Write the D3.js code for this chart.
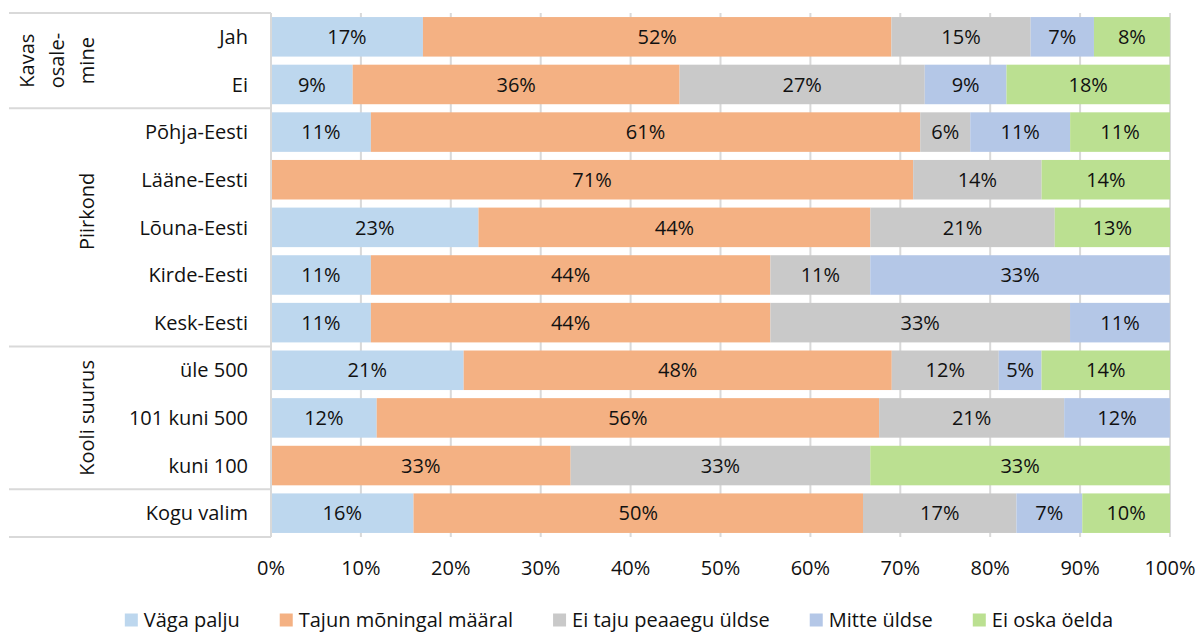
<!DOCTYPE html>
<html>
<head>
<meta charset="utf-8">
<script src="https://cdn.jsdelivr.net/npm/d3@7/dist/d3.min.js"></script>
<style>
  html, body { margin: 0; padding: 0; background: #fff; }
  svg { display: block; font-family: "Open Sans", "Noto Sans", sans-serif; }
</style>
</head>
<body>
<svg id="chart" width="1199" height="632"></svg>
<script>
// Row categories, top to bottom
const categories = ["Jah", "Ei", "Põhja-Eesti", "Lääne-Eesti", "Lõuna-Eesti", "Kirde-Eesti",
  "Kesk-Eesti", "üle 500", "101 kuni 500", "kuni 100", "Kogu valim"];

// Category groups (name lines, first row index, row count)
const groups = [
  { lines: ["Kavas", "osale-", "mine"], start: 0, count: 2 },
  { lines: ["Piirkond"], start: 2, count: 5 },
  { lines: ["Kooli suurus"], start: 7, count: 3 },
  { lines: [], start: 10, count: 1 }
];

// Answer shares, % of respondents per row
const vagaPalju = [16.90, 9.09, 11.11, 0, 23.08, 11.11, 11.11, 21.43, 11.76, 0, 15.85];
const tajun     = [52.11, 36.36, 61.11, 71.43, 43.59, 44.44, 44.44, 47.62, 55.88, 33.33, 50.00];
const eiTaju    = [15.49, 27.27, 5.56, 14.29, 20.51, 11.11, 33.33, 11.90, 20.59, 33.33, 17.07];
const mitte     = [7.04, 9.09, 11.11, 0, 0, 33.33, 11.11, 4.76, 11.76, 0, 7.32];
const eiOska    = [8.45, 18.18, 11.11, 14.29, 12.82, 0, 0, 14.29, 0, 33.33, 9.76];

const seriesNames = ["Väga palju", "Tajun mõningal määral", "Ei taju peaaegu üldse", "Mitte üldse", "Ei oska öelda"];
const seriesValues = [vagaPalju, tajun, eiTaju, mitte, eiOska];
const colors = ["#BDD7EE", "#F4B183", "#C9C9C9", "#B4C7E7", "#BBE091"];

const xTicks = [0, 10, 20, 30, 40, 50, 60, 70, 80, 90, 100];

// ---- layout ----
const svg = d3.select("#chart");
const plotLeft = 271, plotRight = 1170, plotTop = 13, plotBottom = 537;
const tableLeft = 9;
const fontSize = 20;
const lineColor = "#D9D9D9";

const x = d3.scaleLinear().domain([0, 100]).range([plotLeft, plotRight]);
const y = d3.scaleBand().domain(categories).range([plotTop, plotBottom])
  .paddingInner(0.17).paddingOuter(0.085);

// table rows for stacking
const rows = categories.map((c, i) => {
  const r = { category: c };
  seriesNames.forEach((s, k) => { r[s] = seriesValues[k][i]; });
  return r;
});
const stacked = d3.stack().keys(seriesNames)(rows);

// vertical gridlines
svg.append("g").selectAll("line").data(xTicks.slice(1)).join("line")
  .attr("x1", d => x(d)).attr("x2", d => x(d))
  .attr("y1", plotTop).attr("y2", plotBottom)
  .attr("stroke", lineColor).attr("stroke-width", 2);

// bars
const layers = svg.append("g").selectAll("g").data(stacked).join("g")
  .attr("fill", (d, i) => colors[i]);
layers.selectAll("rect").data(d => d.map(p => ({ p, key: d.key }))).join("rect")
  .attr("x", d => x(d.p[0]))
  .attr("width", d => Math.max(0, x(d.p[1]) - x(d.p[0])))
  .attr("y", d => y(d.p.data.category))
  .attr("height", y.bandwidth());

// value labels
const labelG = svg.append("g").attr("font-size", fontSize).attr("fill", "#111")
  .attr("text-anchor", "middle");
stacked.forEach(layer => {
  layer.forEach(p => {
    const v = p[1] - p[0];
    if (v <= 0) return;
    labelG.append("text")
      .attr("x", x((p[0] + p[1]) / 2))
      .attr("y", y(p.data.category) + y.bandwidth() / 2)
      .attr("dy", "0.36em")
      .text(Math.round(v) + "%");
  });
});

// left category table: separators and frame
const step = y.step();
const sepYs = [plotTop];
groups.forEach(g => sepYs.push(plotTop + (g.start + g.count) * step));
svg.append("g").selectAll("line").data(sepYs).join("line")
  .attr("x1", tableLeft).attr("x2", plotLeft)
  .attr("y1", d => d).attr("y2", d => d)
  .attr("stroke", lineColor).attr("stroke-width", 2);
svg.append("line")
  .attr("x1", plotLeft).attr("x2", plotLeft)
  .attr("y1", plotTop).attr("y2", plotBottom)
  .attr("stroke", lineColor).attr("stroke-width", 2);

// category labels
svg.append("g").attr("font-size", fontSize).attr("fill", "#111").attr("text-anchor", "end")
  .selectAll("text").data(categories).join("text")
  .attr("x", 248)
  .attr("y", d => y(d) + y.bandwidth() / 2)
  .attr("dy", "0.36em")
  .text(d => d);

// group labels, rotated, last line nearest to the categories
const groupShift = { "Piirkond": -16 };
const groupG = svg.append("g").attr("font-size", fontSize).attr("fill", "#111").attr("text-anchor", "middle");
groups.forEach(g => {
  if (!g.lines.length) return;
  const cy = plotTop + (g.start + g.count / 2) * step + (groupShift[g.lines[0]] || 0);
  const n = g.lines.length;
  g.lines.forEach((t, i) => {
    const cx = 87 - (n - 1 - i) * 30;
    groupG.append("text")
      .attr("transform", `translate(${cx},${cy}) rotate(-90)`)
      .attr("dy", "0.36em")
      .text(t);
  });
});

// x axis tick labels
svg.append("g").attr("font-size", fontSize).attr("fill", "#111").attr("text-anchor", "middle")
  .selectAll("text").data(xTicks).join("text")
  .attr("x", d => x(d))
  .attr("y", 568)
  .attr("dy", "0.36em")
  .text(d => d + "%");

// legend
const legend = svg.append("g").attr("font-size", fontSize).attr("fill", "#111");
const items = legend.selectAll("g").data(seriesNames).join("g");
items.append("rect").attr("width", 13).attr("height", 13).attr("y", -6.5)
  .attr("fill", (d, i) => colors[i]);
items.append("text").attr("x", 19).attr("dy", "0.36em").text(d => d);
let cursor = 0;
const gap = 40;
const offsets = [];
items.each(function () {
  offsets.push(cursor);
  const w = 19 + this.querySelector("text").getComputedTextLength();
  cursor += w + gap;
});
const totalW = cursor - gap;
const legendX = 619 - totalW / 2;
items.attr("transform", (d, i) => `translate(${legendX + offsets[i]},620)`);
</script>
</body>
</html>
